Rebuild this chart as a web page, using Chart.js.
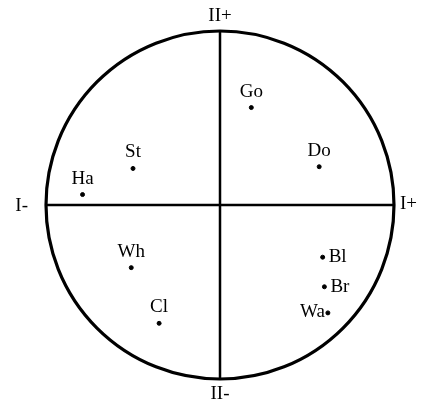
<!DOCTYPE html>
<html>
<head>
<meta charset="utf-8">
<script src="https://cdn.jsdelivr.net/npm/chart.js@4"></script>
<style>
  html, body { margin: 0; padding: 0; background: #fff; }
  canvas { display: block; }
</style>
</head>
<body>
<canvas id="chart" width="430" height="406"></canvas>
<script>
// Codes des points et leurs coordonnées sur les deux axes (I horizontal, II vertical)
const codes = ["Go", "St", "Ha", "Do", "Wh", "Bl", "Br", "Wa", "Cl"];
const axisI = [0.18, -0.50, -0.79, 0.57, -0.51, 0.59, 0.60, 0.62, -0.35];
const axisII = [0.56, 0.21, 0.06, 0.22, -0.36, -0.30, -0.47, -0.62, -0.68];
const axisLabels = ["I-", "I+", "II-", "II+"];

// placement des étiquettes autour des points
const labelSide = {Bl: "right", Br: "right", Wa: "left"};

const points = codes.map((c, i) => ({x: axisI[i], y: axisII[i], code: c}));

const FONT = "19px 'Liberation Serif', serif";

const circlePlugin = {
    id: "circleAxes",
    beforeDatasetsDraw(chart) {
        const {ctx, scales: {x, y}} = chart;
        const cx = x.getPixelForValue(0), cy = y.getPixelForValue(0);
        const rx = x.getPixelForValue(1) - cx, ry = cy - y.getPixelForValue(1);
        ctx.save();
        ctx.strokeStyle = "#000";
        ctx.lineWidth = 3.2;
        ctx.beginPath();
        ctx.ellipse(cx, cy, rx, ry, 0, 0, Math.PI * 2);
        ctx.stroke();
        ctx.lineWidth = 2.5;
        ctx.beginPath();
        ctx.moveTo(x.getPixelForValue(-1), cy);
        ctx.lineTo(x.getPixelForValue(1), cy);
        ctx.moveTo(cx, y.getPixelForValue(1));
        ctx.lineTo(cx, y.getPixelForValue(-1));
        ctx.stroke();

        // étiquettes des axes
        ctx.fillStyle = "#000";
        ctx.font = FONT;
        ctx.textBaseline = "middle";
        ctx.textAlign = "right";
        ctx.fillText(axisLabels[0], x.getPixelForValue(-1) - 18, cy + 1);
        ctx.textAlign = "left";
        ctx.fillText(axisLabels[1], x.getPixelForValue(1) + 6, cy - 1);
        ctx.textAlign = "center";
        ctx.fillText(axisLabels[2], cx, y.getPixelForValue(-1) + 15);
        ctx.fillText(axisLabels[3], cx, y.getPixelForValue(1) - 15);
        ctx.restore();
    },
    afterDatasetsDraw(chart) {
        const {ctx} = chart;
        const meta = chart.getDatasetMeta(0);
        ctx.save();
        ctx.fillStyle = "#000";
        ctx.font = FONT;
        ctx.textBaseline = "middle";
        meta.data.forEach((el, i) => {
            const code = codes[i];
            const side = labelSide[code];
            if (side === "right") {
                ctx.textAlign = "left";
                ctx.fillText(code, el.x + 6, el.y);
            } else if (side === "left") {
                ctx.textAlign = "right";
                ctx.fillText(code, el.x - 3, el.y - 1);
            } else {
                ctx.textAlign = "center";
                ctx.fillText(code, el.x, el.y - 16);
            }
        });
        ctx.restore();
    }
};

const ctx = document.getElementById("chart").getContext("2d");
new Chart(ctx, {
    type: "scatter",
    data: {
        datasets: [{
            data: points,
            backgroundColor: "#000",
            borderColor: "#000",
            pointRadius: 2,
            pointHoverRadius: 2
        }]
    },
    options: {
        responsive: false,
        animation: false,
        layout: {padding: {left: 46, right: 36, top: 31, bottom: 27}},
        plugins: {legend: {display: false}, tooltip: {enabled: false}},
        scales: {
            x: {display: false, min: -1, max: 1},
            y: {display: false, min: -1, max: 1}
        }
    },
    plugins: [circlePlugin]
});
</script>
</body>
</html>
